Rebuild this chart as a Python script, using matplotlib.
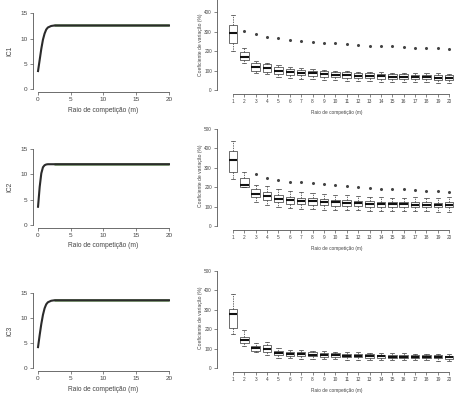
import numpy as np
import matplotlib
matplotlib.use('Agg')
import matplotlib.pyplot as plt

plt.rcParams['font.family'] = ['Liberation Sans', 'DejaVu Sans']

# curvas do índice de competição (esquerda)
raio = [0, 0.25, 0.5, 0.75, 1.0, 1.25, 1.5, 2.0, 2.5, 3.0, 20]
ic1 = [3.6, 5.8, 8.0, 9.8, 11.0, 11.8, 12.2, 12.5, 12.6, 12.6, 12.6]
ic2 = [3.6, 7.5, 10.2, 11.4, 11.8, 11.95, 12.0, 12.0, 12.0, 12.0, 12.0]
ic3 = [4.2, 6.6, 8.8, 10.6, 11.9, 12.7, 13.1, 13.4, 13.5, 13.5, 13.5]
plato_x = [2.5, 20]
ic1_plato = [12.65, 12.65]
ic2_plato = [12.05, 12.05]
ic3_plato = [13.55, 13.55]

# boxplots do coeficiente de variação (direita)
raios = list(range(1, 21))

cv1_med = [291, 171, 120, 111, 100, 92, 88, 85, 82, 78, 76, 73, 71, 70, 69, 67, 66, 65, 64, 63]
cv1_q1 = [243, 154, 99, 94, 82, 78, 75, 72, 69, 66, 63, 61, 59, 58, 57, 56, 55, 54, 53, 52]
cv1_q3 = [333, 197, 140, 132, 120, 108, 104, 100, 97, 93, 90, 87, 85, 83, 82, 80, 79, 78, 77, 76]
cv1_lo = [202, 137, 89, 82, 65, 62, 58, 55, 52, 50, 47, 45, 44, 43, 42, 41, 40, 39, 38, 37]
cv1_hi = [385, 214, 149, 140, 128, 118, 112, 108, 104, 100, 97, 94, 92, 90, 89, 88, 87, 86, 85, 84]
cv1_out = [[], [302], [289], [273], [265], [256], [251], [245], [243], [239],
           [236], [232], [227], [226], [225], [219], [217], [215], [213], [208]]

cv2_med = [340, 211, 165, 156, 140, 132, 130, 128, 125, 122, 120, 117, 115, 114, 112, 111, 110, 109, 108, 108]
cv2_q1 = [276, 203, 148, 134, 122, 114, 112, 110, 108, 105, 104, 101, 100, 99, 98, 97, 96, 96, 96, 96]
cv2_q3 = [388, 246, 189, 177, 160, 150, 146, 144, 140, 136, 134, 130, 128, 126, 125, 124, 123, 122, 121, 125]
cv2_lo = [240, 199, 125, 110, 100, 92, 90, 88, 85, 83, 82, 80, 79, 78, 77, 76, 75, 75, 74, 74]
cv2_hi = [440, 280, 211, 205, 190, 180, 176, 172, 166, 160, 158, 154, 150, 148, 146, 145, 148, 144, 143, 150]
cv2_out = [[], [], [266], [246], [237], [228], [228], [220], [215], [210],
           [206], [203], [198], [192], [191], [189], [184], [181], [179], [175]]

cv3_med = [277, 144, 101, 96, 76, 73, 71, 69, 67, 65, 64, 62, 61, 60, 59, 58, 57, 57, 56, 55]
cv3_q1 = [205, 127, 88, 81, 67, 64, 62, 60, 58, 57, 56, 55, 54, 53, 52, 51, 51, 50, 50, 49]
cv3_q3 = [305, 161, 115, 119, 88, 84, 82, 80, 77, 75, 73, 71, 70, 69, 68, 67, 66, 65, 65, 64]
cv3_lo = [175, 115, 81, 67, 53, 50, 48, 46, 45, 44, 43, 42, 41, 41, 40, 40, 39, 39, 38, 38]
cv3_hi = [383, 196, 127, 132, 103, 95, 92, 90, 87, 84, 82, 80, 78, 77, 76, 75, 74, 73, 72, 72]
cv3_out = [[] for _ in raios]

TXT = '#444444'
LIN = '#555555'


def estilo_r(ax, xb, yb, fs):
    for s in ['top', 'right']:
        ax.spines[s].set_visible(False)
    for s in ['left', 'bottom']:
        ax.spines[s].set_color(LIN)
        ax.spines[s].set_linewidth(0.6)
    ax.spines['bottom'].set_bounds(*xb)
    ax.spines['left'].set_bounds(*yb)
    ax.tick_params(length=2.2, width=0.5, color=LIN, labelcolor=TXT,
                   labelsize=fs, pad=1.5)
    ax.set_facecolor('none')


W, H = 459, 398
fig = plt.figure(figsize=(W / 100, H / 100), dpi=100)


def rect(x0, x1, y0, y1):
    return [x0 / W, 1 - y1 / H, (x1 - x0) / W, (y1 - y0) / H]


esq = [(ic1, ic1_plato, 'IC1', 10.3, 92.3),
       (ic2, ic2_plato, 'IC2', 146.0, 228.0),
       (ic3, ic3_plato, 'IC3', 289.7, 371.3)]
for ic, plato, nome, y0, y1 in esq:
    ax = fig.add_axes(rect(32.8, 174.2, y0, y1))
    ax.plot(plato_x, plato, color='#7aa66a', lw=1.8, solid_capstyle='butt')
    ax.plot(raio, ic, color='#2b2b2b', lw=1.5)
    ax.set_xlim(-0.8, 20.8)
    ax.set_ylim(-0.6, 15.6)
    ax.set_xticks([0, 5, 10, 15, 20])
    ax.set_yticks([0, 5, 10, 15])
    estilo_r(ax, (0, 20), (0, 15), 4.6)
    ax.set_xlabel('Raio de competição (m)', fontsize=4.8, color=TXT, labelpad=3)
    ax.set_ylabel(nome, fontsize=4.8, color=TXT, labelpad=5)

# o painel de cima fica cortado no topo da figura (como no original)
dir_ = [(cv1_med, cv1_q1, cv1_q3, cv1_lo, cv1_hi, cv1_out, -11.4, 93.9, 45, [0, 100, 200, 300, 400]),
        (cv2_med, cv2_q1, cv2_q3, cv2_lo, cv2_hi, cv2_out, 125.1, 229.9, 176, [0, 100, 200, 300, 400, 500]),
        (cv3_med, cv3_q1, cv3_q3, cv3_lo, cv3_hi, cv3_out, 267.1, 371.9, 318, [0, 100, 200, 300, 400, 500])]
for med, q1, q3, lo, hi, out, y0, y1, ylab, yt in dir_:
    ax = fig.add_axes(rect(217, 456, y0, y1))
    stats = [dict(med=m, q1=a, q3=b, whislo=l, whishi=h, fliers=o)
             for m, a, b, l, h, o in zip(med, q1, q3, lo, hi, out)]
    ax.bxp(stats, positions=raios, widths=0.75, patch_artist=True,
           boxprops=dict(facecolor='white', edgecolor='#333333', linewidth=0.5),
           medianprops=dict(color='#111111', linewidth=1.5),
           whiskerprops=dict(color='#333333', linewidth=0.5, linestyle=(0, (2, 1.5))),
           capprops=dict(color='#333333', linewidth=0.5),
           flierprops=dict(marker='o', markersize=1.2, markerfacecolor='#444444',
                           markeredgecolor='#444444', linestyle='none'))
    ax.set_xlim(-0.4, 20.6)
    ax.set_ylim(-20, 520)
    ax.set_xticks(raios)
    ax.set_xticklabels([str(r) for r in raios])
    ax.set_yticks(yt)
    estilo_r(ax, (1, 20), (0, 500), 3.4)
    ax.set_xlabel('Raio de competição (m)', fontsize=3.4, color=TXT, labelpad=4)
    ax.set_ylabel('Coeficiente de variação (%)', fontsize=3.6, color=TXT)
    ax.yaxis.set_label_coords(-0.058, (y1 - ylab) / (y1 - y0))

fig.savefig('out.png', dpi=100)
